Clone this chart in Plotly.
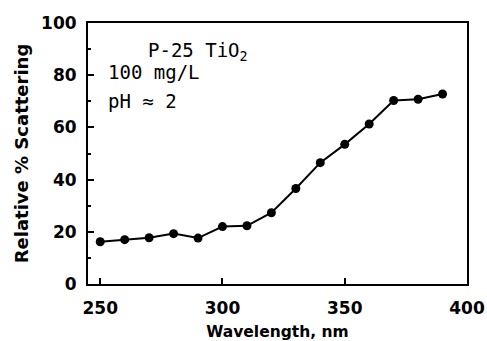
import plotly.graph_objects as go

wavelength = [250, 260, 270, 280, 290, 300, 310, 320, 330, 340, 350, 360, 370, 380, 390]
scattering = [16.2, 17.0, 17.7, 19.3, 17.6, 22.0, 22.3, 27.3, 36.6, 46.5, 53.5, 61.3, 70.3, 70.8, 72.8]

x_ticks = [250, 300, 350, 400]
y_ticks = [0, 20, 40, 60, 80, 100]

fig = go.Figure()
fig.add_trace(go.Scatter(
    x=wavelength, y=scattering, mode="lines+markers",
    line=dict(color="black", width=2),
    marker=dict(color="black", size=9),
    showlegend=False,
))

tick_font = dict(family="DejaVu Sans", size=17, color="black", weight="bold")

fig.update_layout(
    width=487, height=341,
    margin=dict(l=88, r=20, t=23, b=57),
    paper_bgcolor="white", plot_bgcolor="white",
    xaxis=dict(
        range=[245, 400], tickvals=x_ticks, ticks="inside", ticklen=6, tickwidth=1.5,
        tickcolor="black", showline=True, linecolor="black", linewidth=2, mirror=True,
        showgrid=False, zeroline=False, tickfont=tick_font, ticklabelstandoff=8,
        automargin=False,
        title=dict(text="Wavelength, nm", font=dict(family="DejaVu Sans", size=15.5, color="black", weight="bold"), standoff=12),
    ),
    yaxis=dict(
        range=[0, 100], tickvals=y_ticks, ticks="inside", ticklen=6, tickwidth=1.5,
        tickcolor="black", showline=True, linecolor="black", linewidth=2, mirror=True,
        showgrid=False, zeroline=False, tickfont=tick_font, ticklabelstandoff=6,
        automargin=False,
        minor=dict(tickvals=[10, 30, 50, 70, 90], ticks="inside", ticklen=3, tickcolor="black"),
        title=dict(text="Relative % Scattering", font=dict(family="DejaVu Sans", size=18, color="black", weight="bold"), standoff=8),
    ),
)

ann_font = dict(family="DejaVu Sans Mono", size=19, color="black")
fig.add_annotation(x=146, y=51, text="P-25 TiO<sub>2</sub>",
                   showarrow=False, xanchor="left", yanchor="middle", font=ann_font)
fig.add_annotation(x=106, y=72, text="100 mg/L", showarrow=False, xanchor="left", yanchor="middle", font=ann_font)
fig.add_annotation(x=106, y=101, text="pH ≈ 2", showarrow=False, xanchor="left", yanchor="middle", font=ann_font)

# convert pixel positions of annotations to paper coords
L, R, T, B = 88, 487 - 20, 23, 341 - 57
for a in fig.layout.annotations:
    px, py = a.x, a.y
    a.xref = "paper"; a.yref = "paper"
    a.x = (px - L) / (R - L)
    a.y = (B - py) / (B - T)

fig.write_html("out.html")
